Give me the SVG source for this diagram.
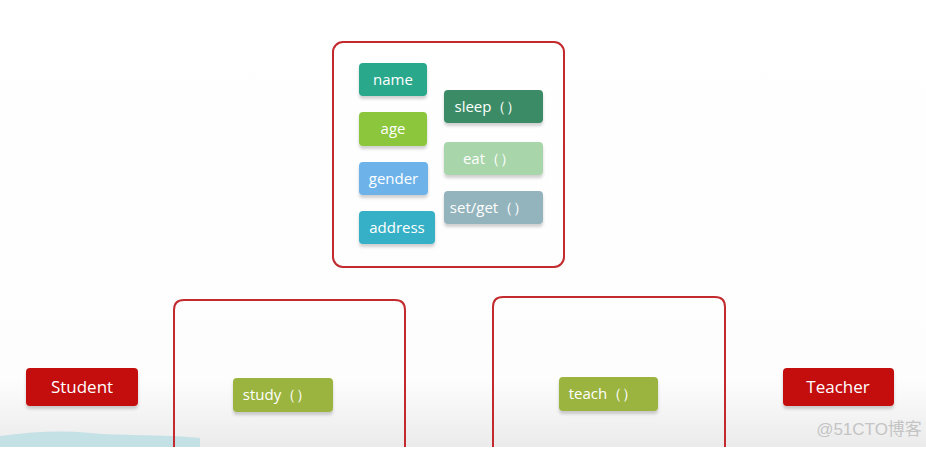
<svg xmlns="http://www.w3.org/2000/svg" width="926" height="456" viewBox="0 0 926 456">
<defs>
<linearGradient id="bg" x1="0" y1="0" x2="0" y2="1">
<stop offset="0" stop-color="#ffffff"/>
<stop offset="0.85" stop-color="#fdfdfd"/>
<stop offset="1" stop-color="#ebebeb"/>
</linearGradient>
<filter id="sh" x="-10%" y="-10%" width="120%" height="140%">
<feDropShadow dx="0" dy="3" stdDeviation="1.5" flood-color="#000" flood-opacity="0.18"/>
</filter>
<style>
.frame{fill:none;stroke:#c22a2e;stroke-width:2}
.pill text{font-family:"Open Sans","Noto Sans",sans-serif;font-size:15px;fill:#ffffff;text-anchor:middle;dominant-baseline:central}
.big text{font-size:17px}
</style>
</defs>
<rect x="0" y="0" width="926" height="447" fill="url(#bg)"/>
<rect x="0" y="447" width="926" height="9" fill="#ffffff"/>
<path d="M0 436 C30 432 60 430 90 433 C120 436 160 434 200 438 L200 447 L0 447 Z" fill="#b9dde4" opacity="0.8"/>

<g id="parent">
<rect class="frame" x="333" y="42" width="231" height="225" rx="10"/>
</g>
<g id="student-box">
<path class="frame" d="M174 447 L174 310 Q174 300 184 300 L395 300 Q405 300 405 310 L405 447"/>
</g>
<g id="teacher-box">
<path class="frame" d="M493 447 L493 307 Q493 297 503 297 L715 297 Q725 297 725 307 L725 447"/>
</g>

<g id="name" class="pill"><rect x="359" y="63" width="68" height="33" rx="4" fill="#29a88b" filter="url(#sh)"/><text x="393" y="79">name</text></g>
<g id="age" class="pill"><rect x="359" y="112" width="68" height="34" rx="4" fill="#8cc63e" filter="url(#sh)"/><text x="393" y="128">age</text></g>
<g id="gender" class="pill"><rect x="359" y="162" width="69" height="33" rx="4" fill="#6db3ea" filter="url(#sh)"/><text x="393.5" y="178">gender</text></g>
<g id="address" class="pill"><rect x="359" y="211" width="76" height="33" rx="4" fill="#35b0c6" filter="url(#sh)"/><text x="397" y="227">address</text></g>
<g id="sleep" class="pill"><rect x="444" y="90" width="99" height="33" rx="4" fill="#3a8c66" filter="url(#sh)"/><text x="488" y="106">sleep（）</text></g>
<g id="eat" class="pill"><rect x="444" y="142" width="99" height="33" rx="4" fill="#a9d5ab" filter="url(#sh)"/><text x="489" y="158">eat（）</text></g>
<g id="setget" class="pill"><rect x="444" y="191" width="99" height="33" rx="4" fill="#93b4bc" filter="url(#sh)"/><text x="489" y="207">set/get（）</text></g>

<g id="student" class="pill big"><rect x="26" y="368" width="112" height="38" rx="4" fill="#c40d0e" filter="url(#sh)"/><text x="82" y="386">Student</text></g>
<g id="study" class="pill"><rect x="233" y="378" width="100" height="34" rx="4" fill="#9bb43f" filter="url(#sh)"/><text x="277" y="394">study（）</text></g>
<g id="teach" class="pill"><rect x="559" y="377" width="99" height="34" rx="4" fill="#9bb43f" filter="url(#sh)"/><text x="603" y="393">teach（）</text></g>
<g id="teacher" class="pill big"><rect x="783" y="368" width="111" height="38" rx="4" fill="#c40d0e" filter="url(#sh)"/><text x="838" y="386">Teacher</text></g>

<g id="connectors"></g>
<text x="869" y="435" font-family="Liberation Sans,'Noto Sans CJK SC',sans-serif" font-size="17" fill="#c4c4c4" text-anchor="middle">@51CTO博客</text>
</svg>
